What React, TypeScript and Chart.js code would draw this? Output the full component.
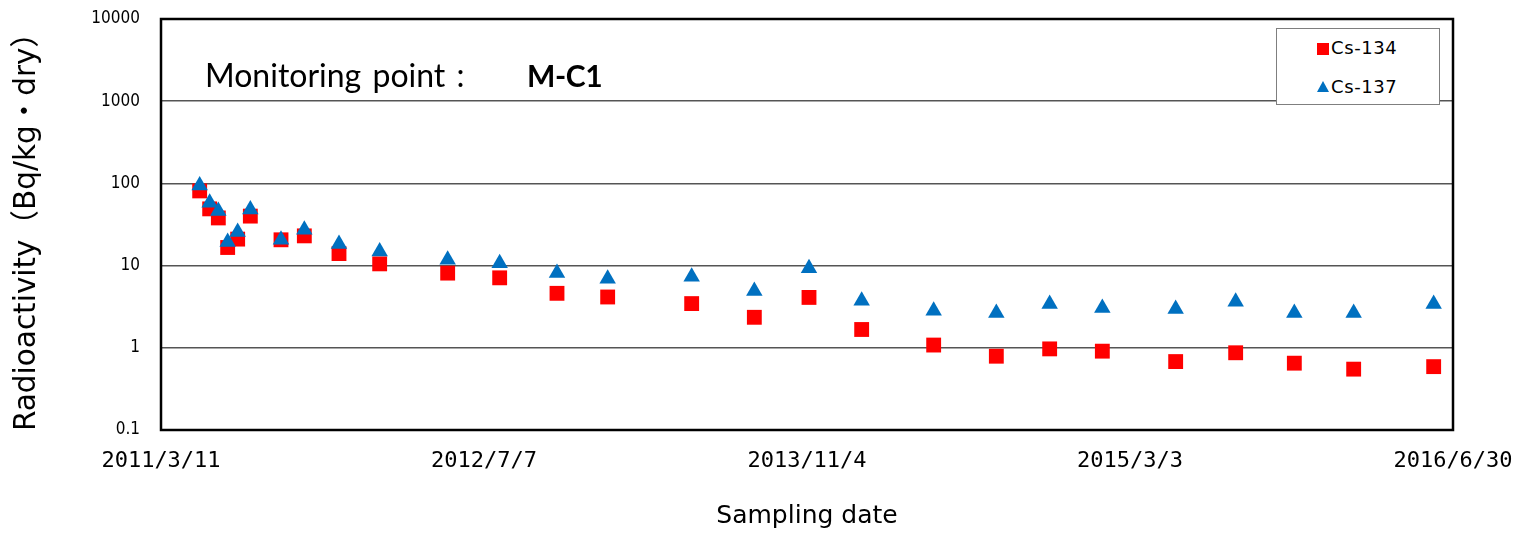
import React, { useEffect, useRef } from "react";
import { Chart, registerables } from "chart.js";

Chart.register(...registerables);

// ---- data ----
const startDate = "2011-03-11";
const endDay = 1938; // 2016/6/30
const tickStep = 484.5;
const seriesNames = ["Cs-134", "Cs-137"];
const sampleDates = [
  "2011-05-08", "2011-05-23", "2011-06-05", "2011-06-19", "2011-07-04", "2011-07-23",
  "2011-09-07", "2011-10-12", "2011-12-03", "2012-02-02", "2012-05-14", "2012-07-31",
  "2012-10-25", "2013-01-09", "2013-05-15", "2013-08-17", "2013-11-07", "2014-01-25",
  "2014-05-13", "2014-08-15", "2014-11-03", "2015-01-21", "2015-05-11", "2015-08-09",
  "2015-11-05", "2016-02-02", "2016-06-01",
];
const cs134 = [
  81, 49, 38, 16.6, 21, 40, 20.6, 23, 14, 10.5, 8.1, 7.1, 4.6, 4.15, 3.45, 2.35, 4.1, 1.67,
  1.08, 0.79, 0.97, 0.91, 0.68, 0.87, 0.65, 0.55, 0.59,
];
const cs137 = [
  94, 58, 46, 19.4, 25.6, 48, 20.7, 27.3, 18.3, 14.8, 11.8, 10.7, 8.1, 6.9, 7.3, 4.9, 9.3, 3.74,
  2.83, 2.65, 3.41, 3.05, 2.97, 3.64, 2.65, 2.65, 3.41,
];
const yTickValues = [0.1, 1, 10, 100, 1000, 10000];
const yTickLabels = ["0.1", "1", "10", "100", "1000", "10000"];

const DAY_MS = 86400000;
function utc(s: string) {
  const [y, m, d] = s.split("-").map(Number);
  return Date.UTC(y, m - 1, d);
}
const baseMs = utc(startDate);
function toDay(s: string) {
  return Math.round((utc(s) - baseMs) / DAY_MS);
}
function dayLabel(v: number) {
  const dt = new Date(baseMs + Math.floor(v + 1e-6) * DAY_MS);
  return `${dt.getUTCFullYear()}/${dt.getUTCMonth() + 1}/${dt.getUTCDate()}`;
}

const framePlugin = {
  id: "frame",
  beforeDatasetsDraw(chart: any) {
    const { ctx, chartArea } = chart;
    ctx.save();
    ctx.strokeStyle = "#000";
    ctx.lineWidth = 2.5;
    ctx.strokeRect(chartArea.left, chartArea.top, chartArea.right - chartArea.left, chartArea.bottom - chartArea.top);
    ctx.restore();
  },
};

function zeroPadding(s: any) {
  s.paddingTop = 0;
  s.paddingBottom = 0;
  s.paddingLeft = 0;
  s.paddingRight = 0;
}

export default function App() {
  const ref = useRef<HTMLCanvasElement | null>(null);
  useEffect(() => {
    if (!ref.current) return;
    const chart = new Chart(ref.current, {
      type: "scatter",
      data: {
        datasets: [
          {
            label: seriesNames[0],
            data: sampleDates.map((d, i) => ({ x: toDay(d), y: cs134[i] })),
            pointStyle: "rect",
            pointRadius: 10.5,
            pointHoverRadius: 10.5,
            backgroundColor: "#FF0000",
            borderColor: "#FF0000",
            borderWidth: 0,
            order: 1,
          },
          {
            label: seriesNames[1],
            data: sampleDates.map((d, i) => ({ x: toDay(d), y: cs137[i] })),
            pointStyle: "triangle",
            pointRadius: 9.5,
            pointHoverRadius: 9.5,
            backgroundColor: "#0070C0",
            borderColor: "#0070C0",
            borderWidth: 0,
            order: 0,
          },
        ],
      },
      options: {
        animation: false,
        responsive: true,
        maintainAspectRatio: false,
        events: [],
        layout: { padding: { top: 19, right: 66, left: 0, bottom: 0 } },
        plugins: { legend: { display: false }, tooltip: { enabled: false } },
        scales: {
          x: {
            type: "linear",
            min: 0,
            max: endDay,
            afterBuildTicks: (s: any) => {
              s.ticks = [0, 1, 2, 3, 4].map((i) => ({ value: i * tickStep }));
            },
            afterFit: (s: any) => {
              s.height = 106;
              zeroPadding(s);
            },
            grid: { display: false, drawTicks: false },
            border: { display: false },
            ticks: {
              autoSkip: false,
              maxRotation: 0,
              padding: 18,
              color: "#000",
              font: { family: '"DejaVu Sans Mono", monospace', size: 22 },
              callback: (v: any) => dayLabel(Number(v)),
            },
            title: {
              display: true,
              text: "Sampling date",
              color: "#000",
              font: { family: '"DejaVu Sans", sans-serif', size: 25 },
              padding: { top: 0, bottom: 5 },
            },
          },
          y: {
            type: "logarithmic",
            min: 0.1,
            max: 10000,
            afterBuildTicks: (s: any) => {
              s.ticks = yTickValues.map((v) => ({ value: v }));
            },
            afterFit: (s: any) => {
              s.width = 161;
              zeroPadding(s);
            },
            grid: { color: "#555555", lineWidth: 1.6, drawTicks: false },
            border: { display: false },
            ticks: {
              padding: 21,
              color: "#000",
              font: { family: '"DejaVu Sans Condensed", "DejaVu Sans", sans-serif', size: 17 },
              callback: (v: any) => {
                const i = yTickValues.findIndex((t) => Math.abs(t - Number(v)) < 1e-9);
                return i >= 0 ? yTickLabels[i] : "";
              },
            },
            title: {
              display: true,
              text: "Radioactivity（Bq/kg・dry）",
              color: "#000",
              font: { family: '"DejaVu Sans", "Noto Sans CJK JP", sans-serif', size: 29.5 },
              padding: { top: 10, bottom: 0 },
            },
          },
        },
      },
      plugins: [framePlugin],
    });
    return () => chart.destroy();
  }, []);

  return (
    <div style={{ position: "absolute", left: 0, top: 0, width: 1519, height: 536 }}>
      <canvas ref={ref} />
      <div
        style={{
          position: "absolute",
          left: 205,
          top: 60,
          fontFamily: "Lato, sans-serif",
          fontSize: 32,
          lineHeight: "30px",
          wordSpacing: "3px",
          color: "#000",
          whiteSpace: "nowrap",
        }}
      >
        <span>Monitoring point :</span>{" "}
        <b style={{ position: "absolute", left: 322, fontSize: 30, letterSpacing: "-0.4px" }}>M-C1</b>
      </div>
      <div
        style={{
          position: "absolute",
          left: 1276,
          top: 28,
          width: 164,
          height: 77,
          boxSizing: "border-box",
          border: "1px solid #7f7f7f",
          background: "#fff",
          fontFamily: '"DejaVu Sans", sans-serif',
          fontSize: 18,
          letterSpacing: "0.6px",
          color: "#000",
        }}
      >
        <div style={{ position: "absolute", left: 40, top: 14, width: 12, height: 12, background: "#FF0000" }} />
        <div style={{ position: "absolute", left: 54, top: 9, lineHeight: "20px" }}>{seriesNames[0]}</div>
        <div
          style={{
            position: "absolute",
            left: 40,
            top: 52,
            width: 0,
            height: 0,
            borderLeft: "6px solid transparent",
            borderRight: "6px solid transparent",
            borderBottom: "11px solid #0070C0",
          }}
        />
        <div style={{ position: "absolute", left: 54, top: 48, lineHeight: "20px" }}>{seriesNames[1]}</div>
      </div>
    </div>
  );
}
